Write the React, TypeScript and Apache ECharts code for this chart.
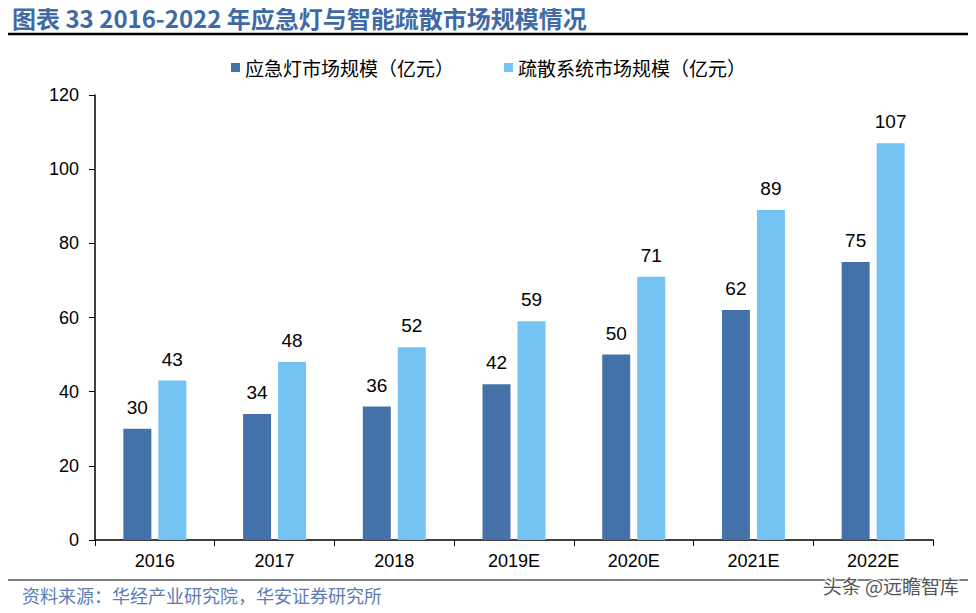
import React, { useEffect, useRef } from "react";
import * as echarts from "echarts";

const categories = ["2016", "2017", "2018", "2019E", "2020E", "2021E", "2022E"];
const emergencyLight = [30, 34, 36, 42, 50, 62, 75];
const evacuationSystem = [43, 48, 52, 59, 71, 89, 107];
const seriesNames = ["应急灯市场规模（亿元）", "疏散系统市场规模（亿元）"];
const titleText = "图表 33 2016-2022 年应急灯与智能疏散市场规模情况";
const sourceText = "资料来源：华经产业研究院，华安证券研究所";
const watermarkText = "头条 @远瞻智库";

const DARK = "#4472a8";
const LIGHT = "#75c3f3";

export default function App() {
  const ref = useRef<HTMLDivElement>(null);
  useEffect(() => {
    if (!ref.current) return;
    const chart = echarts.init(ref.current, null, { renderer: "svg" });
    const labelStyle = {
      show: true,
      position: "top" as const,
      distance: 12,
      color: "#000",
      fontSize: 19,
      fontFamily: "Liberation Sans, Arial, sans-serif",
    };
    chart.setOption({
      animation: false,
      backgroundColor: "#fff",
      grid: { left: 95, right: 43, top: 95, bottom: 73, containLabel: false },
      legend: {
        top: 53,
        left: 226,
        icon: "rect",
        itemWidth: 9,
        itemHeight: 9,
        itemGap: 50,
        textStyle: {
          fontSize: 19,
          color: "#000",
          fontFamily: "Noto Sans CJK SC, sans-serif",
        },
        data: seriesNames,
      },
      xAxis: {
        type: "category",
        data: categories,
        axisLine: { lineStyle: { color: "#000", width: 1.5 } },
        axisTick: { show: true, length: 6, inside: false, lineStyle: { color: "#000" } },
        axisLabel: {
          color: "#000",
          fontSize: 18,
          margin: 12,
          fontFamily: "Liberation Sans, Arial, sans-serif",
        },
      },
      yAxis: {
        type: "value",
        min: 0,
        max: 120,
        interval: 20,
        axisLine: { show: true, lineStyle: { color: "#000", width: 1.5 } },
        axisTick: { show: true, length: 6, lineStyle: { color: "#000" } },
        splitLine: { show: false },
        axisLabel: {
          color: "#000",
          fontSize: 18,
          margin: 16,
          fontFamily: "Liberation Sans, Arial, sans-serif",
        },
      },
      series: [
        {
          name: seriesNames[0],
          type: "bar",
          data: emergencyLight,
          barWidth: 28,
          barGap: "25%",
          itemStyle: { color: DARK },
          label: labelStyle,
        },
        {
          name: seriesNames[1],
          type: "bar",
          data: evacuationSystem,
          barWidth: 28,
          itemStyle: { color: LIGHT },
          label: labelStyle,
        },
      ],
      graphic: [
        {
          type: "text",
          x: 12,
          y: 17,
          style: {
            text: titleText,
            fontSize: 24,
            fontWeight: "bold",
            fill: "#3f6aa5",
            verticalAlign: "middle",
            fontFamily: "Noto Sans CJK SC, sans-serif",
          },
        },
        {
          type: "line",
          shape: { x1: 4, y1: 34, x2: 973, y2: 34 },
          style: { stroke: "#000", lineWidth: 2.5 },
        },
        {
          type: "line",
          shape: { x1: 4, y1: 580, x2: 973, y2: 580 },
          style: { stroke: "#000", lineWidth: 1.2 },
        },
        {
          type: "text",
          left: 22,
          top: 586,
          style: {
            text: sourceText,
            fontSize: 18,
            fill: "#5b7db5",
            fontFamily: "Noto Sans CJK SC, sans-serif",
          },
        },
        {
          type: "text",
          right: 16,
          top: 575,
          z: 100,
          style: {
            text: watermarkText,
            fontSize: 19,
            fill: "#555",
            stroke: "#fff",
            lineWidth: 2,
            fontFamily: "Noto Sans CJK SC, sans-serif",
          },
        },
      ],
    });
    return () => chart.dispose();
  }, []);
  return <div ref={ref} style={{ width: 976, height: 613, margin: -8 }} />;
}
